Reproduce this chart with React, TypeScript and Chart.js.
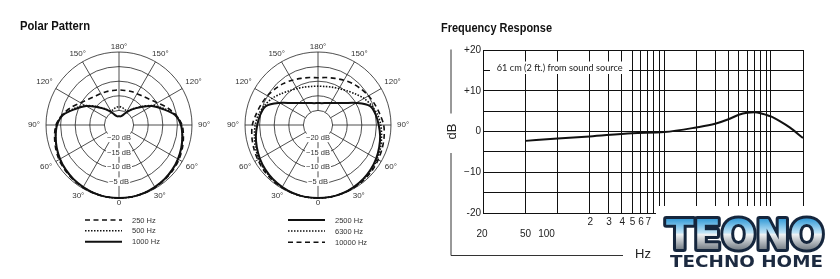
import React, { useEffect, useRef } from 'react';
import { Chart, registerables } from 'chart.js';

Chart.register(...registerables);

// ---------- DATA ----------
const polarAngles = [0, 10, 20, 30, 40, 50, 60, 70, 80, 90, 100, 110, 120, 130, 140, 150, 160, 170, 180,
  190, 200, 210, 220, 230, 240, 250, 260, 270, 280, 290, 300, 310, 320, 330, 340, 350];

const p1Hz250 = [0, 0, -0.1, -0.3, -0.6, -0.9, -1.3, -1.9, -2.6, -3.4, -5.2, -7.5, -9.8, -11.3, -12.2, -12.6, -12.8, -13, -13,
  -13, -12.8, -12.6, -12.2, -11.3, -9.8, -7.5, -5.2, -3.4, -2.6, -1.9, -1.3, -0.9, -0.6, -0.3, -0.1, 0];
const p1Hz500 = [0, 0, -0.2, -0.4, -0.7, -1.1, -1.6, -2.2, -2.9, -3.6, -5.3, -8.6, -11.7, -15.2, -17.8, -19.5, -19.3, -18.9, -18.7,
  -18.9, -19.3, -19.5, -17.8, -15.2, -11.7, -8.6, -5.3, -3.6, -2.9, -2.2, -1.6, -1.1, -0.7, -0.4, -0.2, 0];
const p1Hz1000 = [0, 0, -0.2, -0.5, -0.8, -1.2, -1.7, -2.3, -3.0, -3.8, -5.5, -9, -12, -15.5, -18, -20, -21.5, -22, -22,
  -22, -21.5, -20, -18, -15.5, -12, -9, -5.5, -3.8, -3.0, -2.3, -1.7, -1.2, -0.8, -0.5, -0.2, 0];

const p2Hz2500 = [0, 0, -0.2, -0.5, -0.9, -1.4, -2.0, -2.7, -3.4, -4.2, -4.9, -6.0, -9.9, -13.3, -15.2, -16.3, -17.0, -17.4, -17.5,
  -17.4, -17.0, -16.3, -15.2, -13.3, -9.9, -6.0, -4.9, -4.2, -3.4, -2.7, -2.0, -1.4, -0.9, -0.5, -0.2, 0];
const p2Hz6300 = [0, 0, -0.1, -0.4, -0.7, -1.1, -1.6, -2.2, -2.9, -3.5, -4.3, -5.5, -6.8, -8.4, -9.7, -10.6, -11.2, -11.6, -11.7,
  -11.6, -11.2, -10.6, -9.7, -8.4, -6.8, -5.5, -4.3, -3.5, -2.9, -2.2, -1.6, -1.1, -0.7, -0.4, -0.1, 0];
const p2Hz10000 = [0, 0, -0.1, -0.3, -0.5, -0.8, -1.2, -1.6, -2.0, -2.5, -3.5, -4.3, -5.0, -5.8, -6.5, -7.3, -8.0, -8.5, -8.8,
  -8.5, -8.0, -7.3, -6.5, -5.8, -5.0, -4.3, -3.5, -2.5, -2.0, -1.6, -1.2, -0.8, -0.5, -0.3, -0.1, 0];

const polarRingLabels = [-20, -15, -10, -5];

const freqHz = [50, 100, 200, 500, 1000, 2000, 3000, 4000, 5000, 6000, 7000, 8000, 9000, 10000, 12000, 15000, 20000];
const responseDb = [-2.3, -1.7, -1.2, -0.4, -0.15, 1.0, 1.9, 3.0, 4.1, 4.6, 4.7, 4.5, 4.1, 3.7, 2.6, 1.0, -1.6];

const freqGridHz = [20, 50, 100, 200, 300, 400, 500, 600, 700, 800, 900, 1000,
  2000, 3000, 4000, 5000, 6000, 7000, 8000, 9000, 10000, 20000];
const freqLabelHz = [20, 50, 100];
const freqLabelText = ['20', '50', '100'];
const freqDigitHz = [200, 300, 400, 500, 600, 700];
const freqDigitText = ['2', '3', '4', '5', '6', '7'];
const dbTickValues = [20, 10, 0, -10, -20];
const dbTickText = ['+20', '+10', '0', '\u221210', '-20'];

// ---------- HELPERS ----------
const SANS = '"Liberation Sans", Arial, Helvetica, sans-serif';

function fitText(ctx: CanvasRenderingContext2D, text: string, x: number, y: number, w: number, align: CanvasTextAlign = 'left') {
  const m = ctx.measureText(text).width;
  ctx.save();
  ctx.translate(x, y);
  ctx.scale(w / m, 1);
  ctx.textAlign = align;
  ctx.fillText(text, 0, 0);
  ctx.restore();
}

type Series = { label: string; data: number[]; width: number; dash: number[] };
type LegendCfg = { x0: number; x1: number; tx: number; rows: number[] };

function makePolarDecor(legend: LegendCfg, title?: string) {
  return {
    id: 'polarDecor',
    beforeDatasetsDraw(chart: any) {
      const s = chart.scales.r;
      const ctx: CanvasRenderingContext2D = chart.ctx;
      ctx.save();
      ctx.strokeStyle = '#222';
      ctx.lineWidth = 0.8;
      const inner = s.getDistanceFromCenterForValue(-20);
      for (let i = 0; i < polarAngles.length; i++) {
        if (polarAngles[i] % 30 !== 0) continue;
        const a = s.getPointPosition(i, inner);
        const b = s.getPointPosition(i, s.drawingArea);
        ctx.beginPath();
        ctx.moveTo(a.x, a.y);
        ctx.lineTo(b.x, b.y);
        ctx.stroke();
      }
      ctx.restore();
    },
    afterDraw(chart: any) {
      const s = chart.scales.r;
      const ctx: CanvasRenderingContext2D = chart.ctx;
      ctx.save();
      // degree labels
      ctx.font = '8px ' + SANS;
      ctx.fillStyle = '#333';
      ctx.textAlign = 'center';
      ctx.textBaseline = 'middle';
      for (let i = 0; i < polarAngles.length; i++) {
        const deg = polarAngles[i];
        if (deg % 30 !== 0) continue;
        const shown = deg > 180 ? 360 - deg : deg;
        const txt = shown === 0 ? '0' : shown + '\u00b0';
        const hw = ctx.measureText(txt).width / 2;
        const r = s.drawingArea + 5 + Math.abs(Math.sin((deg * Math.PI) / 180)) * (hw + 1);
        const p = s.getPointPosition(i, r);
        ctx.fillText(txt, p.x, p.y);
      }
      // ring dB labels along the 0 degree spoke
      ctx.font = '7.5px ' + SANS;
      for (const v of polarRingLabels) {
        const d = s.getDistanceFromCenterForValue(v);
        const p = s.getPointPosition(0, d);
        const txt = '\u2212' + Math.abs(v) + ' dB';
        const w = ctx.measureText(txt).width;
        ctx.fillStyle = '#fff';
        ctx.fillRect(p.x - w / 2 - 1, p.y - 1.5 - 4.5, w + 2, 8.5);
        ctx.fillStyle = '#333';
        ctx.fillText(txt, p.x, p.y - 1.5);
      }
      // legend
      const cx = s.xCenter;
      const cy = s.yCenter;
      chart.data.datasets.forEach((ds: any, k: number) => {
        const y = cy + legend.rows[k];
        ctx.strokeStyle = '#111';
        ctx.lineWidth = ds.borderWidth;
        ctx.setLineDash(ds.borderDash || []);
        ctx.beginPath();
        ctx.moveTo(cx + legend.x0, y);
        ctx.lineTo(cx + legend.x1, y);
        ctx.stroke();
        ctx.setLineDash([]);
        ctx.fillStyle = '#333';
        ctx.textAlign = 'left';
        ctx.font = '7.5px ' + SANS;
        ctx.fillText(ds.label, cx + legend.tx, y + 0.5);
      });
      if (title) {
        ctx.fillStyle = '#111';
        ctx.font = 'bold 13px ' + SANS;
        ctx.textBaseline = 'alphabetic';
        fitText(ctx, title, 20, 30, 70);
      }
      ctx.restore();
    },
  };
}

function PolarChart(props: { left: number; padLeft: number; series: Series[]; legend: LegendCfg; title?: string }) {
  const ref = useRef<HTMLCanvasElement>(null);
  useEffect(() => {
    const W = 220, H = 260, D = 146, top = 52;
    const chart = new Chart(ref.current as HTMLCanvasElement, {
      type: 'radar',
      data: {
        labels: polarAngles.map((a) => String(a)),
        datasets: props.series.map((s) => ({
          label: s.label,
          data: s.data,
          borderColor: '#111',
          borderWidth: s.width,
          borderDash: s.dash,
          pointRadius: 0,
          fill: false,
          tension: 0.3,
        })),
      },
      options: {
        animation: false,
        responsive: false,
        layout: { padding: { left: props.padLeft, right: W - props.padLeft - D, top, bottom: H - top - D } },
        plugins: { legend: { display: false }, tooltip: { enabled: false } },
        scales: {
          r: {
            min: -25,
            max: 0,
            startAngle: 180,
            ticks: { display: false, stepSize: 5 },
            grid: { circular: true, color: '#222', lineWidth: 0.8 },
            angleLines: { display: false },
            pointLabels: { display: false },
          },
        },
      } as any,
      plugins: [makePolarDecor(props.legend, props.title)],
    });
    return () => chart.destroy();
  }, []);
  return (
    <canvas ref={ref} width={220} height={260}
      style={{ position: 'absolute', left: props.left, top: 0, width: 220, height: 260 }} />
  );
}

const freqDecor = {
  id: 'freqDecor',
  afterDraw(chart: any) {
    const ctx: CanvasRenderingContext2D = chart.ctx;
    const xs = chart.scales.x;
    const ys = chart.scales.y;
    const ca = chart.chartArea;
    ctx.save();
    // annotation
    ctx.fillStyle = '#fff';
    ctx.fillRect(ca.left + 7, 61.5, 139, 12.5);
    ctx.fillStyle = '#222';
    ctx.font = '10px Lato, ' + SANS;
    ctx.textBaseline = 'middle';
    fitText(ctx, '61 cm (2 ft.) from sound source', 60.7, 67.5, 126);
    // y labels
    ctx.font = '10px ' + SANS;
    ctx.fillStyle = '#222';
    ctx.textAlign = 'right';
    dbTickValues.forEach((v, i) => {
      ctx.fillText(dbTickText[i], ca.left - 2, ys.getPixelForValue(v));
    });
    // x labels
    ctx.textAlign = 'center';
    const nudge = [-1, 0, -11];
    freqLabelHz.forEach((v, i) => {
      ctx.fillText(freqLabelText[i], xs.getPixelForValue(v) + nudge[i], 234.5);
    });
    freqDigitHz.forEach((v, i) => {
      ctx.fillText(freqDigitText[i], xs.getPixelForValue(v) + 0.5, 222);
    });
    // axis L lines
    ctx.strokeStyle = '#333';
    ctx.lineWidth = 1;
    ctx.beginPath();
    ctx.moveTo(15, 49.5);
    ctx.lineTo(15, 113.5);
    ctx.moveTo(15, 153);
    ctx.lineTo(15, 255.5);
    ctx.lineTo(187, 255.5);
    ctx.stroke();
    ctx.fillStyle = '#222';
    ctx.font = '13px ' + SANS;
    ctx.fillText('Hz', 207, 254.5);
    ctx.save();
    ctx.translate(16, 131.5);
    ctx.rotate(-Math.PI / 2);
    ctx.fillText('dB', 0, 0);
    ctx.restore();
    // title
    ctx.fillStyle = '#111';
    ctx.font = 'bold 13px ' + SANS;
    ctx.textBaseline = 'alphabetic';
    fitText(ctx, 'Frequency Response', 5, 31.5, 111);
    // logo
    ctx.fillStyle = '#fff';
    ctx.fillRect(220, 206, 184, 73);
    ctx.font = 'bold 40px "DejaVu Sans", ' + SANS;
    ctx.textBaseline = 'alphabetic';
    const m = ctx.measureText('TEONO').width;
    ctx.save();
    ctx.translate(230, 248.5);
    ctx.scale(158 / m, 1);
    ctx.lineJoin = 'round';
    ctx.lineWidth = 6;
    ctx.strokeStyle = '#15263d';
    ctx.textAlign = 'left';
    ctx.strokeText('TEONO', 0, 0);
    const g = ctx.createLinearGradient(0, -29, 0, 0);
    g.addColorStop(0, '#3c9fd9');
    g.addColorStop(0.45, '#bfe3f6');
    g.addColorStop(0.52, '#eef1f3');
    g.addColorStop(1, '#7e868e');
    ctx.fillStyle = g;
    ctx.fillText('TEONO', 0, 0);
    ctx.restore();
    ctx.fillStyle = '#1c2a40';
    ctx.font = 'bold 16px "DejaVu Sans", ' + SANS;
    fitText(ctx, 'TECHNO HOME', 234, 266.7, 153);
    ctx.restore();
  },
};

function FreqChart() {
  const ref = useRef<HTMLCanvasElement>(null);
  useEffect(() => {
    const chart = new Chart(ref.current as HTMLCanvasElement, {
      type: 'line',
      data: {
        datasets: [{
          label: 'Response',
          data: freqHz.map((f, i) => ({ x: f, y: responseDb[i] })),
          borderColor: '#111',
          borderWidth: 2,
          pointRadius: 0,
          fill: false,
          cubicInterpolationMode: 'monotone',
        }],
      },
      options: {
        animation: false,
        responsive: false,
        layout: { padding: { left: 47, right: 37, top: 50, bottom: 66 } },
        plugins: { legend: { display: false }, tooltip: { enabled: false } },
        scales: {
          x: {
            type: 'logarithmic',
            min: 20,
            max: 20000,
            afterBuildTicks: (s: any) => { s.ticks = freqGridHz.map((v) => ({ value: v })); },
            ticks: { display: false },
            grid: { color: '#111', lineWidth: 1, drawTicks: false },
            border: { color: '#111' },
          },
          y: {
            min: -20,
            max: 20,
            ticks: { display: false, stepSize: 5 },
            grid: { color: '#111', lineWidth: 1, drawTicks: false },
            border: { color: '#111' },
          },
        },
      } as any,
      plugins: [freqDecor],
    });
    return () => chart.destroy();
  }, []);
  return (
    <canvas ref={ref} width={404} height={279}
      style={{ position: 'absolute', left: 436, top: 0, width: 404, height: 279 }} />
  );
}

export default function App() {
  return (
    <div style={{ position: 'absolute', left: 0, top: 0, width: 840, height: 279, background: '#fff', overflow: 'hidden' }}>
      <PolarChart
        left={0}
        padLeft={46}
        title="Polar Pattern"
        legend={{ x0: -34, x1: 3, tx: 13, rows: [95, 105.7, 116.7] }}
        series={[
          { label: '250 Hz', data: p1Hz250, width: 1.6, dash: [5, 3.5] },
          { label: '500 Hz', data: p1Hz500, width: 1.6, dash: [1.5, 1.5] },
          { label: '1000 Hz', data: p1Hz1000, width: 2, dash: [] },
        ]}
      />
      <PolarChart
        left={220}
        padLeft={25}
        legend={{ x0: -30, x1: 7, tx: 17, rows: [95, 106, 117.3] }}
        series={[
          { label: '2500 Hz', data: p2Hz2500, width: 2, dash: [] },
          { label: '6300 Hz', data: p2Hz6300, width: 1.6, dash: [1.5, 1.5] },
          { label: '10000 Hz', data: p2Hz10000, width: 1.6, dash: [5, 3.5] },
        ]}
      />
      <FreqChart />
    </div>
  );
}
